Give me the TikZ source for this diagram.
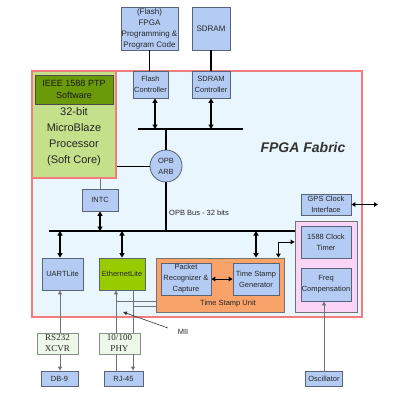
\documentclass[tikz,border=0pt]{standalone}
\usepackage{fontspec}
\setmainfont{Liberation Sans}
\newfontfamily\phyfont{Liberation Serif}
\usetikzlibrary{arrows.meta}

\definecolor{blocbleu}{HTML}{B4CCF4}
\definecolor{bordure}{HTML}{5A6478}
\definecolor{fabricfond}{HTML}{EAF6FD}
\definecolor{fabricrouge}{HTML}{F47C7C}
\definecolor{mbvert}{HTML}{C4E08A}
\definecolor{ptpvert}{HTML}{6A9A0A}
\definecolor{ethvert}{HTML}{99CC00}
\definecolor{tsuorange}{HTML}{F9A36B}
\definecolor{rose}{HTML}{FBD5F6}
\definecolor{phyvert}{HTML}{EEF8EA}

\begin{document}
\begin{tikzpicture}[x=1pt, y=-1pt,
  bloc/.style={draw=bordure, fill=blocbleu, line width=0.8pt, inner sep=0pt, align=center,
    text=black!85, font=\fontsize{7.5}{11}\selectfont},
  phybloc/.style={draw=black!45, fill=phyvert, line width=0.8pt, inner sep=0pt, align=center,
    text=black!85, font=\phyfont\fontsize{9}{11}\selectfont},
  texte/.style={inner sep=0pt, text=black!85, font=\fontsize{7.5}{9}\selectfont},
  bus/.style={line width=2pt, black},
  gros/.style={line width=1.5pt, black},
  fleche2/.style={line width=1.5pt, black, {Triangle[length=4.5pt,width=5pt]}-{Triangle[length=4.5pt,width=5pt]}},
  fleche2m/.style={line width=1pt, black, {Triangle[length=4pt,width=4.5pt]}-{Triangle[length=4pt,width=4.5pt]}},
  fin/.style={line width=0.8pt, black!55, -{Triangle[length=4pt,width=4pt]}},
  finsans/.style={line width=0.8pt, black!55}]
\useasboundingbox (0,0) rectangle (400,400);
% Fabric
\node[draw=fabricrouge, fill=fabricfond, line width=1.2pt, minimum width=330pt, minimum height=246pt, inner sep=0pt] (fabric) at (197,194) {};
\node[inner sep=0pt, text=black!80, font=\fontsize{14}{16}\bfseries\itshape\selectfont] (titre) at (303,147) {FPGA Fabric};
% Processeur
\node[draw=fabricrouge, fill=mbvert, line width=1.2pt, minimum width=84pt, minimum height=107pt, inner sep=0pt] (mb) at (74,124.5) {};
\node[draw=black!70, fill=ptpvert, line width=0.8pt, minimum width=78pt, minimum height=29pt, inner sep=0pt, align=center,
  text=black!90, font=\fontsize{9}{12}\selectfont] (ptp) at (74,89.5) {IEEE 1588 PTP\\Software};
\node[inner sep=0pt, align=center, text=black!85, font=\fontsize{11}{16}\selectfont] (mbtxt) at (74,137) {32-bit\\MicroBlaze\\Processor\\(Soft Core)};
% Memoires
\node[bloc, minimum width=57pt, minimum height=43pt, font=\fontsize{8}{11}\selectfont] (flash) at (149.5,28.5) {(Flash)\\FPGA\\Programming \&\\Program Code};
\node[bloc, minimum width=38pt, minimum height=43pt, font=\fontsize{8}{11}\selectfont] (sdram) at (211,28.5) {SDRAM};
\node[bloc, minimum width=35pt, minimum height=27pt] (flashctl) at (150.5,84.5) {Flash\\Controller};
\node[bloc, minimum width=38pt, minimum height=27pt] (sdramctl) at (211,84.5) {SDRAM\\Controller};
% Bus
\coordinate (hautG) at (138,129);
\coordinate (hautD) at (243,129);
\coordinate (basG) at (49,231);
\node[bloc, circle, minimum size=32pt] (arb) at (166,166) {OPB\\ARB};
\node[texte, anchor=west] (opb) at (169,213) {OPB Bus - 32 bits};
\node[bloc, minimum width=36pt, minimum height=22pt] (intc) at (100,200) {INTC};
% Peripheriques
\node[bloc, minimum width=41pt, minimum height=32pt] (uart) at (62.5,274) {UARTLite};
\node[bloc, fill=ethvert, minimum width=46pt, minimum height=32pt] (eth) at (122,274) {EthernetLite};
\node[draw=black!55, fill=tsuorange, line width=0.8pt, minimum width=128pt, minimum height=54pt, inner sep=0pt] (tsu) at (220,285) {};
\node[texte] (tsutxt) at (228,304) {Time Stamp Unit};
\node[bloc, minimum width=50pt, minimum height=32pt] (pkt) at (186,279) {Packet\\Recognizer \&\\Capture};
\node[bloc, minimum width=46pt, minimum height=32pt] (tsg) at (256,279) {Time Stamp\\Generator};
\node[draw=black!55, fill=rose, line width=0.8pt, minimum width=62pt, minimum height=91pt, inner sep=0pt] (pink) at (326,266.5) {};
\node[bloc, minimum width=50pt, minimum height=32pt] (timer) at (326,242) {1588 Clock\\Timer};
\node[bloc, minimum width=50pt, minimum height=33pt] (freq) at (326,284.5) {Freq\\Compensation};
\node[bloc, minimum width=50pt, minimum height=21pt] (gps) at (326,204.5) {GPS Clock\\Interface};
\coordinate (gpsext) at (378,204.5);
% Externe
\node[bloc, minimum width=37pt, minimum height=15pt] (osc) at (324,378.5) {Oscillator};
\node[phybloc, minimum width=41pt, minimum height=21pt] (rs232) at (57.5,343.5) {RS232\\XCVR};
\node[phybloc, minimum width=41pt, minimum height=21pt] (phy) at (119.5,343.5) {10/100\\PHY};
\node[bloc, minimum width=37pt, minimum height=15pt] (db9) at (59.5,378.5) {DB-9};
\node[bloc, minimum width=39pt, minimum height=15pt] (rj45) at (123.5,378.5) {RJ-45};
\coordinate (colU) at (60,0);
\coordinate (colA) at (116,0);
\coordinate (colB) at (133,0);
\coordinate (miiA) at (116,301);
\coordinate (miiB) at (133,306);
\node[texte] (mii) at (183,332) {MII};
\coordinate (miidep) at (168,328);
\coordinate (miipt) at (123,312);
% Liaisons
\draw[gros] (flash.south) -- (flash.south |- flashctl.north);
\draw[gros] (sdram.south) -- (sdramctl.north);
\draw[bus] (hautG) -- (hautD);
\draw[fleche2] ([xshift=4.5pt]flashctl.south) -- ([xshift=4.5pt]flashctl.south |- hautG);
\draw[fleche2] (sdramctl.south) -- (sdramctl.south |- hautG);
\draw[bus] (arb.north) -- (arb.north |- hautG);
\draw[line width=1pt] (mb.east |- arb.west) -- (arb.west);
\draw[bus] (arb.south) -- (arb.south |- basG);
\draw[bus] (basG) -- (basG -| pink.west);
\draw[finsans] (intc.north) -- (intc.north |- mb.south);
\draw[fleche2] (intc.south) -- (intc.south |- basG);
\draw[fleche2] (uart.north -| colU) -- (basG -| colU);
\draw[fleche2] (eth.north) -- (eth.north |- basG);
\draw[fleche2] (tsg.north |- tsu.north) -- (tsg.north |- basG);
\draw[fleche2m] ([xshift=-6pt]tsu.north east) |- (pink.west |- timer.west);
\draw[fleche2m] (pkt.east) -- (tsg.west);
\draw[fleche2m] (gps.east) -- (gpsext);
\draw[fin] (osc.north) -- (osc.north |- freq.south);
\draw[fin] (rs232.north -| colU) -- (uart.south -| colU);
\draw[fin] (rs232.south -| colU) -- (db9.north -| colU);
\draw[fin] (phy.north -| colA) -- (eth.south -| colA);
\draw[finsans] (phy.south -| colA) -- (rj45.north -| colA);
\draw[finsans] (eth.south -| colB) -- (phy.north -| colB);
\draw[fin] (phy.south -| colB) -- (rj45.north -| colB);
\draw[finsans] (miiA) -- (miiA -| tsu.west);
\draw[finsans] (miiB) -- (miiB -| tsu.west);
\draw[line width=0.6pt, black!80, -{Triangle[length=4pt,width=3.5pt]}] (miidep) -- (miipt);
\end{tikzpicture}
\end{document}
